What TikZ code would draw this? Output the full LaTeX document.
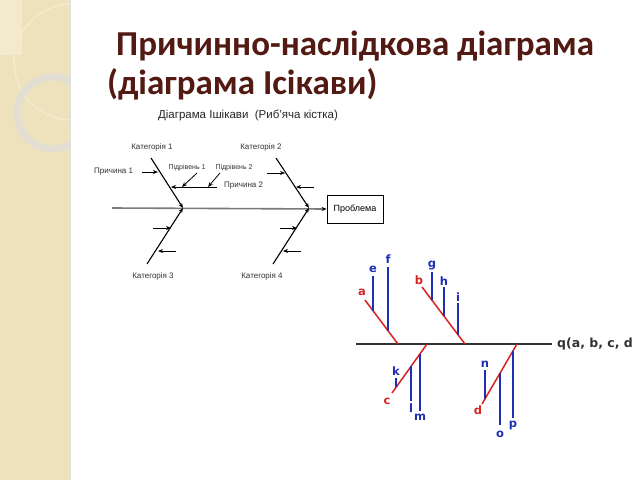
\documentclass[tikz,border=0pt]{standalone}
\usepackage{fontspec}
\setmainfont{Liberation Sans}
\newfontfamily\titlefont{Carlito}
\newfontfamily\boldsans{DejaVu Sans}
\usetikzlibrary{arrows.meta}
\definecolor{strip}{HTML}{EEE2BD}
\definecolor{stripl}{HTML}{F3EACD}
\definecolor{ringc}{HTML}{E2DED4}
\definecolor{titlec}{HTML}{521A13}
\definecolor{spinegray}{HTML}{7A7A7A}
\definecolor{bonered}{HTML}{D92323}
\definecolor{boneblue}{HTML}{1F2FB4}
\definecolor{qgray}{HTML}{333333}
\begin{document}
\begin{tikzpicture}[x=1pt,y=-1pt,
  lab/.style={font=\fontsize{8}{9}\selectfont, text=black!80, inner sep=0pt},
  bone/.style={line width=1.1pt, black},
  tip/.style={-{Stealth[length=5pt,width=4pt]}},
  small/.style={line width=0.8pt, black, -{Stealth[length=5pt,width=4pt]}},
  redb/.style={line width=1.5pt, bonered},
  blueb/.style={line width=1.3pt, boneblue},
  rl/.style={font=\boldsans\bfseries\fontsize{11.5}{12}\selectfont, text=bonered, inner sep=0pt},
  bl/.style={font=\boldsans\bfseries\fontsize{11.5}{12}\selectfont, text=boneblue, inner sep=0pt}]
\useasboundingbox (0,0) rectangle (640,480);
\fill[white] (0,0) rectangle (640,480);
% left decorative strip
\fill[strip] (0,0) rectangle (70,480);
\begin{scope}
\clip (0,0) rectangle (70,480);
\fill[stripl] (0,0) rectangle (22,55);
\draw[stripl, line width=1.6pt] (72,62) circle (58);
\draw[ringc, line width=7pt] (53,113) circle (36);
\end{scope}
\draw[black!12, line width=1pt] (70.5,0) -- (70.5,480);
% title
\node[anchor=base west, inner sep=0pt, text=titlec, font=\titlefont\bfseries\fontsize{35}{39}\selectfont] (t1) at (116,55) {Причинно-наслідкова діаграма};
\node[anchor=base west, inner sep=0pt, text=titlec, font=\titlefont\bfseries\fontsize{35}{39}\selectfont] (t2) at (107,94) {(діаграма Ісікави)};
% left fishbone diagram
\node[font=\fontsize{11.5}{13}\selectfont, text=black!85, inner sep=0pt] (dt) at (248,115) {Діаграма Ішікави\ \ (Риб’яча кістка)};
\node[draw=black, line width=0.8pt, minimum width=56pt, minimum height=28pt, inner sep=0pt, font=\fontsize{9}{10}\selectfont] (prob) at (355,209) {Проблема};
\coordinate (s0) at (112,208);
\draw[spinegray, line width=1.6pt, -{Stealth[length=5pt,width=4pt,black]}] (s0) -- (prob.west);
\coordinate (j1) at (183,208);
\coordinate (j2) at (309,208);
\coordinate (b1) at (151,158);
\coordinate (b3) at (147,264);
\coordinate (b2) at (276,158);
\coordinate (b4) at (273,264);
\draw[bone, tip] (b1) -- (j1);
\draw[bone, tip] (b3) -- (j1);
\draw[bone, tip] (b2) -- (j2);
\draw[bone, tip] (b4) -- (j2);
\node[lab] (k1) at (152,147) {Категорія 1};
\node[lab] (k2) at (261,147) {Категорія 2};
\node[lab] (k3) at (153,276) {Категорія 3};
\node[lab] (k4) at (262,276) {Категорія 4};
\node[lab, anchor=west] (p1) at (94,172) {Причина 1};
\coordinate (a1s) at (142,172);
\coordinate (a1e) at (158,172);
\draw[small] (a1s) -- (a1e);
\coordinate (p2s) at (217,187);
\coordinate (p2e) at (171,187);
\draw[small] (p2s) -- (p2e);
\node[lab, anchor=west] (p2) at (224,186) {Причина 2};
\node[lab, font=\fontsize{7}{8}\selectfont] (s1) at (187,168) {Підрівень 1};
\node[lab, font=\fontsize{7}{8}\selectfont] (s2) at (234,168) {Підрівень 2};
\coordinate (s1a) at (197,173);
\coordinate (s1b) at (182,187);
\coordinate (s2a) at (220,173);
\coordinate (s2b) at (208,187);
\draw[small] (s1a) -- (s1b);
\draw[small] (s2a) -- (s2b);
% category 2 arrows
\coordinate (c2a) at (267,173); \coordinate (c2b) at (285,173);
\coordinate (c2c) at (314,187); \coordinate (c2d) at (296,187);
\draw[small] (c2a) -- (c2b);
\draw[small] (c2c) -- (c2d);
% category 3 arrows
\coordinate (c3a) at (153,228); \coordinate (c3b) at (171,228);
\coordinate (c3c) at (176,251); \coordinate (c3d) at (158,251);
\draw[small] (c3a) -- (c3b);
\draw[small] (c3c) -- (c3d);
% category 4 arrows
\coordinate (c4a) at (280,228); \coordinate (c4b) at (297,228);
\coordinate (c4c) at (301,251); \coordinate (c4d) at (283,251);
\draw[small] (c4a) -- (c4b);
\draw[small] (c4c) -- (c4d);
% right diagram
\coordinate (q0) at (356,344);
\coordinate (q1) at (552,344);
\draw[qgray, line width=1.6pt] (q0) -- (q1);
\begin{scope}
\clip (0,0) rectangle (633,480);
\node[anchor=west, inner sep=0pt, text=qgray, font=\boldsans\bfseries\fontsize{12.5}{13}\selectfont] (ql) at (557,344) {q(a, b, c, d)};
\end{scope}
% red bones
\coordinate (ra0) at (365,300); \coordinate (ra1) at (398,344);
\coordinate (rb0) at (422,287); \coordinate (rb1) at (465,344);
\coordinate (rc0) at (392,393); \coordinate (rc1) at (427,344);
\coordinate (rd0) at (482,404); \coordinate (rd1) at (517,344);
\draw[redb] (ra0) -- (ra1);
\draw[redb] (rb0) -- (rb1);
\draw[redb] (rc0) -- (rc1);
\draw[redb] (rd0) -- (rd1);
\node[rl] (la) at (362,292) {a};
\node[rl] (lb) at (419,280) {b};
\node[rl] (lc) at (387,401) {c};
\node[rl] (ld) at (478,410) {d};
% blue bones
\coordinate (e0) at (373,276); \coordinate (e1) at (373,311);
\coordinate (f0) at (388,267); \coordinate (f1) at (388,331);
\coordinate (g0) at (432,272); \coordinate (g1) at (432,300);
\coordinate (h0) at (444,287); \coordinate (h1) at (444,316);
\coordinate (i0) at (458,303); \coordinate (i1) at (458,335);
\coordinate (k0) at (396,378); \coordinate (kk1) at (396,387);
\coordinate (l0) at (411,366); \coordinate (l1) at (411,401);
\coordinate (m0) at (420,354); \coordinate (m1) at (420,411);
\coordinate (n0) at (485,370); \coordinate (n1) at (485,399);
\coordinate (o0) at (500,373); \coordinate (o1) at (500,425);
\coordinate (pp0) at (513,351); \coordinate (pp1) at (513,418);
\draw[blueb] (e0) -- (e1);
\draw[blueb] (f0) -- (f1);
\draw[blueb] (g0) -- (g1);
\draw[blueb] (h0) -- (h1);
\draw[blueb] (i0) -- (i1);
\draw[blueb] (k0) -- (kk1);
\draw[blueb] (l0) -- (l1);
\draw[blueb] (m0) -- (m1);
\draw[blueb] (n0) -- (n1);
\draw[blueb] (o0) -- (o1);
\draw[blueb] (pp0) -- (pp1);
\node[bl] (le) at (373,269) {e};
\node[bl] (lf) at (388,259) {f};
\node[bl] (lg) at (432,266) {g};
\node[bl] (lh) at (444,281) {h};
\node[bl] (li) at (458,297) {i};
\node[bl] (lk) at (396,371) {k};
\node[bl] (ll) at (411,408) {l};
\node[bl] (lm) at (420,417) {m};
\node[bl] (ln) at (485,364) {n};
\node[bl] (lo) at (500,434) {o};
\node[bl] (lp) at (513,425) {p};
\end{tikzpicture}
\end{document}
